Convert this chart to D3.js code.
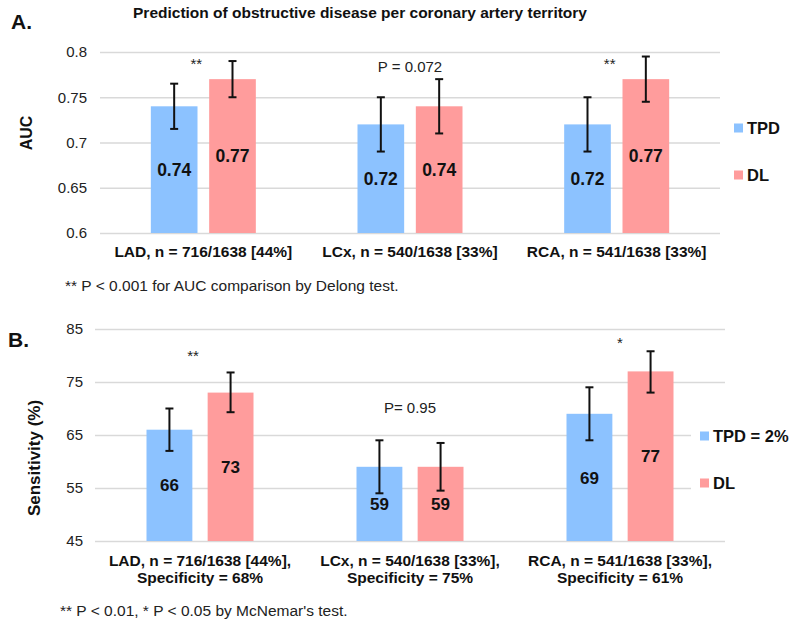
<!DOCTYPE html>
<html lang="en">
<head>
<meta charset="UTF-8">
<title>Prediction of obstructive disease per coronary artery territory</title>
<script src="https://d3js.org/d3.v7.min.js"></script>
<style>
    body { margin: 0; background: #fff; }
    svg { display: block; font-family: 'Liberation Sans', Arial, sans-serif; }
    .grid line { stroke: #d9d9d9; stroke-width: 1.3; }
    .grid text { font-size: 15px; fill: #222; }
</style>
</head>
<body>
<svg id="chart" width="800" height="628"></svg>
<script>
// --- Data ---
const series = ["TPD", "DL"];

// Panel A: AUC
const categoriesA = ["LAD, n = 716/1638 [44%]", "LCx, n = 540/1638 [33%]", "RCA, n = 541/1638 [33%]"];
const tpdAuc = [0.74, 0.72, 0.72];
const tpdAucLow = [0.715, 0.69, 0.69];
const tpdAucHigh = [0.765, 0.75, 0.75];
const dlAuc = [0.77, 0.74, 0.77];
const dlAucLow = [0.75, 0.71, 0.745];
const dlAucHigh = [0.79, 0.77, 0.795];
const aucTicks = [0.6, 0.65, 0.7, 0.75, 0.8];
const aucTickLabels = ["0.6", "0.65", "0.7", "0.75", "0.8"];
const aucNotes = ["**", "P = 0.072", "**"];
const aucNoteLevel = [0.781, 0.778, 0.781];
const legendA = ["TPD", "DL"];

// Panel B: Sensitivity
const categoriesB = [
    ["LAD, n = 716/1638 [44%],", "Specificity = 68%"],
    ["LCx, n = 540/1638 [33%],", "Specificity = 75%"],
    ["RCA, n = 541/1638 [33%],", "Specificity = 61%"]
];
const tpdSens = [66, 59, 69];
const tpdSensLow = [62, 54, 64];
const tpdSensHigh = [70, 64, 74];
const dlSens = [73, 59, 77];
const dlSensLow = [69.3, 54.5, 73];
const dlSensHigh = [76.8, 63.5, 80.8];
const sensTicks = [45, 55, 65, 75, 85];
const sensTickLabels = ["45", "55", "65", "75", "85"];
const sensNotes = ["**", "P= 0.95", "*"];
const sensNoteLevel = [79, 69.2, 81.4];
const legendB = ["TPD = 2%", "DL"];

const colors = { TPD: "#8cc2ff", DL: "#ff9c9c" };

const svg = d3.select("#chart");

// Builds one bar panel with grid, bars, error bars, labels and legend.
const drawPanel = (opt) => {
    const g = svg.append("g");
    const x0 = d3.scaleBand().domain(d3.range(opt.cats.length)).range([opt.left, opt.right]);
    const x1 = d3.scaleBand().domain(series).range([0, opt.groupWidth]).paddingInner(opt.barGap);
    const y = d3.scaleLinear().domain(opt.domain).range([opt.bottom, opt.top]);
    const offset = (x0.bandwidth() - opt.groupWidth) / 2;

    // gridlines + tick labels
    const axis = d3.axisLeft(y)
        .tickValues(opt.ticks)
        .tickFormat((d, i) => opt.tickLabels[i])
        .tickSize(-(opt.right - opt.left))
        .tickPadding(opt.left - opt.tickEnd);
    g.append("g")
        .attr("class", "grid")
        .attr("transform", `translate(${opt.left},0)`)
        .call(axis)
        .call(s => s.select(".domain").remove());

    // white box behind legend (it hides part of the grid)
    if (opt.legendBox) {
        g.append("rect")
            .attr("x", opt.legendBox[0]).attr("y", opt.legendBox[1])
            .attr("width", opt.legendBox[2]).attr("height", opt.legendBox[3])
            .attr("fill", "#fff");
    }

    const rows = opt.cats.map((c, i) => series.map(s => ({
        i, s,
        v: opt.values[s][i],
        lo: opt.low[s][i],
        hi: opt.high[s][i]
    }))).flat();

    const bx = d => x0(d.i) + offset + x1(d.s);

    g.selectAll("rect.bar")
        .data(rows)
        .join("rect")
        .attr("class", "bar")
        .attr("x", bx)
        .attr("width", x1.bandwidth())
        .attr("y", d => y(d.v))
        .attr("height", d => y(opt.domain[0]) - y(d.v))
        .attr("fill", d => colors[d.s]);

    // value labels in the middle of each bar
    g.selectAll("text.val")
        .data(rows)
        .join("text")
        .attr("class", "val")
        .attr("x", d => bx(d) + x1.bandwidth() / 2)
        .attr("y", d => (y(d.v) + y(opt.domain[0])) / 2)
        .attr("dy", "0.36em")
        .attr("text-anchor", "middle")
        .attr("font-weight", "bold")
        .attr("font-size", opt.valSize)
        .attr("fill", "#111")
        .text(d => opt.fmt(d.v));

    // error bars
    const cap = 4;
    const eb = g.selectAll("g.err").data(rows).join("g").attr("class", "err")
        .attr("stroke", "#111").attr("stroke-width", 2);
    eb.append("line")
        .attr("x1", d => bx(d) + x1.bandwidth() / 2).attr("x2", d => bx(d) + x1.bandwidth() / 2)
        .attr("y1", d => y(d.lo)).attr("y2", d => y(d.hi));
    ["lo", "hi"].forEach(k => {
        eb.append("line")
            .attr("x1", d => bx(d) + x1.bandwidth() / 2 - cap)
            .attr("x2", d => bx(d) + x1.bandwidth() / 2 + cap)
            .attr("y1", d => y(d[k])).attr("y2", d => y(d[k]));
    });

    // significance notes
    g.selectAll("text.note")
        .data(opt.notes)
        .join("text")
        .attr("class", "note")
        .attr("x", (d, i) => x0(i) + x0.bandwidth() / 2 + (d.startsWith("**") ? -7 : 0))
        .attr("y", (d, i) => y(opt.noteLevel[i]))
        .attr("text-anchor", "middle")
        .attr("font-size", 15)
        .attr("fill", "#222")
        .text(d => d);

    // category labels
    const cl = g.selectAll("text.cat")
        .data(opt.cats)
        .join("text")
        .attr("class", "cat")
        .attr("x", (d, i) => x0(i) + x0.bandwidth() / 2)
        .attr("y", opt.catY)
        .attr("text-anchor", "middle")
        .attr("font-weight", "bold")
        .attr("font-size", 15.5)
        .attr("fill", "#111");
    cl.selectAll("tspan")
        .data(d => Array.isArray(d) ? d : [d])
        .join("tspan")
        .attr("x", function () { return d3.select(this.parentNode).attr("x"); })
        .attr("dy", (d, i) => i === 0 ? 0 : 17)
        .text(d => d);

    // y axis title
    g.append("text")
        .attr("transform", `translate(${opt.titleX},${opt.titleY}) rotate(-90)`)
        .attr("text-anchor", "middle")
        .attr("dy", "0.36em")
        .attr("font-weight", "bold")
        .attr("font-size", opt.titleSize)
        .attr("fill", "#111")
        .text(opt.yTitle);

    // legend
    const lg = g.selectAll("g.leg")
        .data(opt.legend)
        .join("g")
        .attr("class", "leg")
        .attr("transform", (d, i) => `translate(${opt.legendX},${opt.legendY[i]})`);
    lg.append("rect")
        .attr("x", 0).attr("y", -4.5).attr("width", 9).attr("height", 9)
        .attr("fill", (d, i) => colors[series[i]]);
    lg.append("text")
        .attr("x", 13)
        .attr("dy", "0.36em")
        .attr("font-weight", "bold")
        .attr("font-size", 16.5)
        .attr("fill", "#111")
        .text(d => d);

    // footnote
    g.append("text")
        .attr("x", opt.footX).attr("y", opt.footY)
        .attr("font-size", 15.5)
        .attr("fill", "#222")
        .text(opt.foot);

    // panel letter
    g.append("text")
        .attr("x", opt.letterX).attr("y", opt.letterY)
        .attr("font-weight", "bold")
        .attr("font-size", 21)
        .attr("fill", "#111")
        .text(opt.letter);
};

// --- Panel A ---
drawPanel({
    cats: categoriesA,
    values: { TPD: tpdAuc, DL: dlAuc },
    low: { TPD: tpdAucLow, DL: dlAucLow },
    high: { TPD: tpdAucHigh, DL: dlAucHigh },
    domain: [0.6, 0.8], ticks: aucTicks, tickLabels: aucTickLabels,
    left: 100, right: 720, top: 52, bottom: 233, tickEnd: 87,
    groupWidth: 105, barGap: 0.2,
    valSize: 17.5, fmt: d3.format(".2f"),
    notes: aucNotes, noteLevel: aucNoteLevel,
    catY: 257,
    yTitle: "AUC", titleX: 26, titleY: 133, titleSize: 16,
    legend: legendA, legendX: 734, legendY: [128, 175],
    foot: "** P < 0.001 for AUC comparison by Delong test.", footX: 65, footY: 291,
    letter: "A.", letterX: 11, letterY: 29
});

// --- Panel B ---
drawPanel({
    cats: categoriesB,
    values: { TPD: tpdSens, DL: dlSens },
    low: { TPD: tpdSensLow, DL: dlSensLow },
    high: { TPD: tpdSensHigh, DL: dlSensHigh },
    domain: [45, 85], ticks: sensTicks, tickLabels: sensTickLabels,
    left: 95, right: 725, top: 329, bottom: 541, tickEnd: 83,
    groupWidth: 107, barGap: 0.25,
    valSize: 17, fmt: d3.format("d"),
    notes: sensNotes, noteLevel: sensNoteLevel,
    catY: 566,
    yTitle: "Sensitivity (%)", titleX: 34, titleY: 458, titleSize: 17,
    legend: legendB, legendX: 700, legendY: [436, 483],
    legendBox: [691, 415, 109, 90],
    foot: "** P < 0.01, * P < 0.05 by McNemar's test.", footX: 60, footY: 616,
    letter: "B.", letterX: 8, letterY: 347
});

// chart title
svg.append("text")
    .attr("x", 360).attr("y", 18)
    .attr("text-anchor", "middle")
    .attr("font-weight", "bold")
    .attr("font-size", 15.5)
    .attr("fill", "#111")
    .text("Prediction of obstructive disease per coronary artery territory");
</script>
</body>
</html>
